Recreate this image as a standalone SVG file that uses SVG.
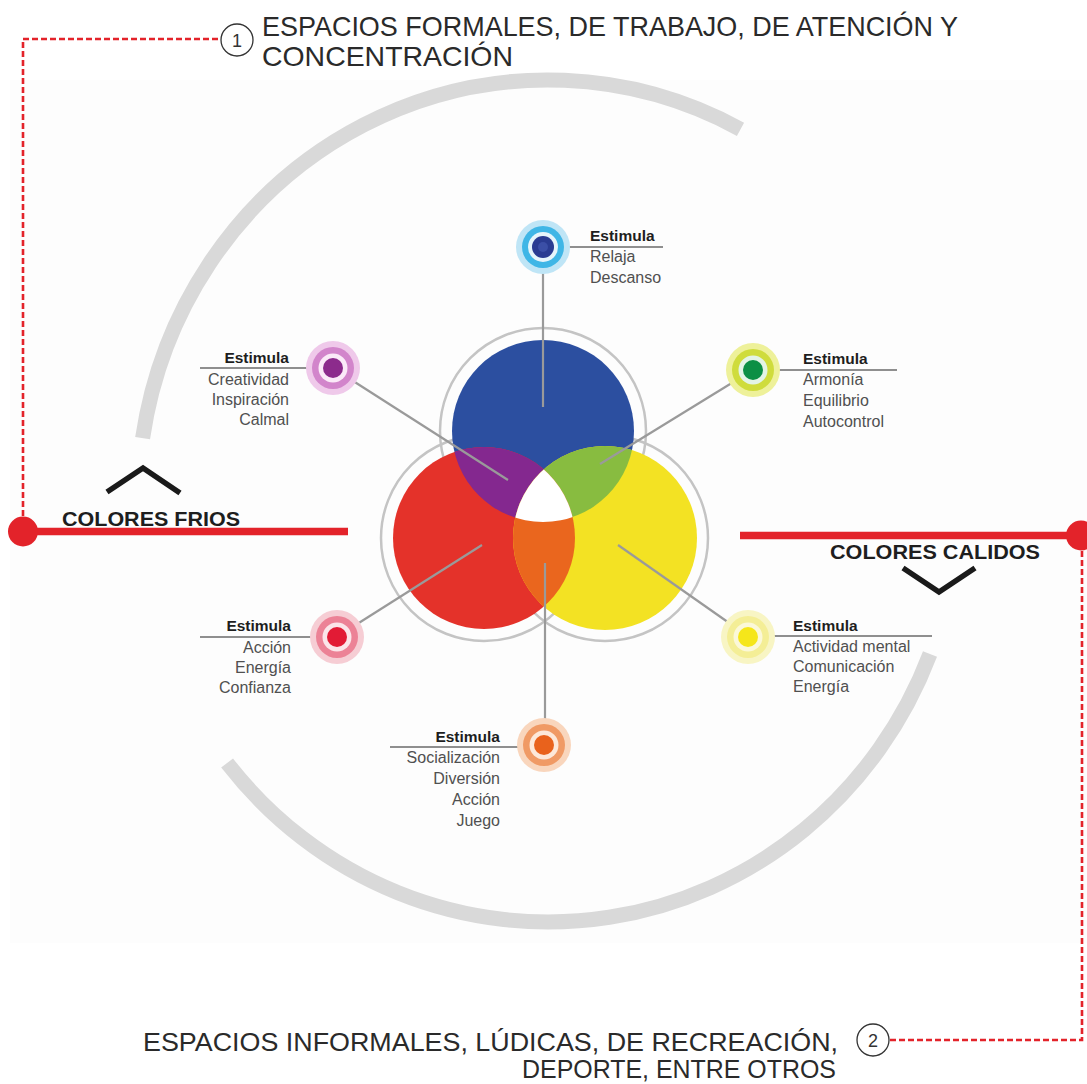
<svg xmlns="http://www.w3.org/2000/svg" width="1087" height="1084" viewBox="0 0 1087 1084">
<style>
.head{font-family:"Liberation Sans",Arial,sans-serif;font-size:28px;fill:#2a2a2a}
.head2{font-family:"Liberation Sans",Arial,sans-serif;font-size:25px;fill:#2a2a2a}
.est{font-family:"Liberation Sans",Arial,sans-serif;font-size:15.5px;font-weight:bold;fill:#1e1e1e}
.item{font-family:"Liberation Sans",Arial,sans-serif;font-size:16px;fill:#505050}
.big{font-family:"Liberation Sans",Arial,sans-serif;font-size:21px;font-weight:bold;fill:#1e1e1e}
.num{font-family:"Liberation Sans",Arial,sans-serif;font-size:18px;fill:#333}
.ul{stroke:#8f8f8f;stroke-width:2.2}
.con{stroke:#9a9a9a;stroke-width:2.2;fill:none}
.dash{stroke:#e3232a;stroke-width:2.6;stroke-dasharray:6 3;fill:none}
.red{stroke:#e3232a;stroke-width:7.5}
.ring{fill:none;stroke:#c4c4c4;stroke-width:2.5}
.chev{fill:none;stroke:#1a1a1a;stroke-width:5.5}
</style>
<defs>
<clipPath id="cB"><circle cx="543" cy="431" r="91"/></clipPath>
<clipPath id="cR"><circle cx="484" cy="538" r="91"/></clipPath>
<clipPath id="cY"><circle cx="605" cy="538" r="92"/></clipPath>
</defs>
<rect x="0" y="0" width="1087" height="1084" fill="#ffffff"/>
<rect x="10" y="80" width="1077" height="863" fill="#fdfdfd"/>

<!-- big gray arcs -->
<g id="arcs" fill="none" stroke="#d9d9d9" stroke-width="15">
<path d="M142.6,438.1 A410,421 0 0 1 740.5,129.3"/>
<path d="M930,654 A410,421 0 0 1 227.1,763"/>
</g>

<!-- Venn diagram -->
<g id="venn">
<circle class="ring" cx="543" cy="431" r="103"/>
<circle class="ring" cx="484" cy="538" r="103"/>
<circle class="ring" cx="605" cy="538" r="103"/>
<circle cx="543" cy="431" r="91" fill="#2c4fa0"/>
<circle cx="484" cy="538" r="91" fill="#e4322a"/>
<circle cx="605" cy="538" r="92" fill="#f3e223"/>
<circle cx="484" cy="538" r="91" fill="#84288f" clip-path="url(#cB)"/>
<circle cx="605" cy="538" r="92" fill="#88bc40" clip-path="url(#cB)"/>
<circle cx="605" cy="538" r="92" fill="#ea661e" clip-path="url(#cR)"/>
<g clip-path="url(#cR)"><circle cx="605" cy="538" r="92" fill="#ffffff" clip-path="url(#cB)"/></g>
</g>

<!-- connectors -->
<g id="connectors">
<line class="con" x1="543" y1="262" x2="543" y2="407"/>
<line class="con" x1="350" y1="379" x2="508" y2="480"/>
<line class="con" x1="735" y1="381" x2="600" y2="464"/>
<line class="con" x1="354" y1="626" x2="482" y2="545"/>
<line class="con" x1="732" y1="625" x2="618" y2="545"/>
<line class="con" x1="545" y1="563" x2="545" y2="725"/>
<line class="red" x1="23" y1="531.5" x2="348" y2="531.5"/>
<circle cx="23" cy="531.5" r="15" fill="#e3232a"/>
<line class="red" x1="740" y1="535.5" x2="1080" y2="535.5"/>
<circle cx="1081" cy="535.5" r="15" fill="#e3232a"/>
<polyline class="dash" points="23,516 23,39 220,39"/>
<polyline class="dash" points="1082,551 1082,1040 889,1040"/>
</g>

<!-- headings -->
<g id="label-formal">
<circle cx="237" cy="40" r="16" fill="#ffffff" stroke="#333" stroke-width="1.3"/>
<text class="num" x="237" y="46.5" text-anchor="middle">1</text>
<text class="head" x="262" y="36" textLength="696" lengthAdjust="spacingAndGlyphs">ESPACIOS FORMALES, DE TRABAJO, DE ATENCIÓN Y</text>
<text class="head" x="262" y="66" textLength="251" lengthAdjust="spacingAndGlyphs">CONCENTRACIÓN</text>
</g>
<g id="label-informal">
<circle cx="873" cy="1040" r="16" fill="#ffffff" stroke="#333" stroke-width="1.3"/>
<text class="num" x="873" y="1046.5" text-anchor="middle">2</text>
<text class="head2" x="143" y="1051" textLength="695" lengthAdjust="spacingAndGlyphs">ESPACIOS INFORMALES, LÚDICAS, DE RECREACIÓN,</text>
<text class="head2" x="522" y="1078" textLength="314" lengthAdjust="spacingAndGlyphs">DEPORTE, ENTRE OTROS</text>
</g>

<g id="colores-frios">
<polyline class="chev" points="107,492 143,468 180,493"/>
<text class="big" x="62" y="526" textLength="178" lengthAdjust="spacingAndGlyphs">COLORES FRIOS</text>
</g>
<g id="colores-calidos">
<text class="big" x="830" y="559" textLength="210" lengthAdjust="spacingAndGlyphs">COLORES CALIDOS</text>
<polyline class="chev" points="903,568 939,592 975,568"/>
</g>

<!-- nodes -->
<g id="node-blue">
<line class="ul" x1="560" y1="247" x2="663" y2="247"/>
<circle cx="543" cy="247" r="27" fill="#bfe5f6"/>
<circle cx="543" cy="247" r="21" fill="#3fb6e6"/>
<circle cx="543" cy="247" r="15" fill="#e6f5fb"/>
<circle cx="543" cy="247" r="11" fill="#2a3c92"/>
<circle cx="543" cy="247" r="5" fill="#3b4fa6"/>
<text class="est" x="590" y="241">Estimula</text>
<text class="item" x="590" y="262">Relaja</text>
<text class="item" x="590" y="283">Descanso</text>
</g>

<g id="node-purple">
<line class="ul" x1="200" y1="368" x2="318" y2="368"/>
<circle cx="333" cy="368" r="27" fill="#efc9ea"/>
<circle cx="333" cy="368" r="21" fill="#d285cb"/>
<circle cx="333" cy="368" r="14.5" fill="#fbeaf8"/>
<circle cx="333" cy="368" r="10" fill="#8c2b8c"/>
<text class="est" x="289" y="363" text-anchor="end">Estimula</text>
<text class="item" x="289" y="385" text-anchor="end">Creatividad</text>
<text class="item" x="289" y="405" text-anchor="end">Inspiración</text>
<text class="item" x="289" y="425" text-anchor="end">Calmal</text>
</g>

<g id="node-green">
<line class="ul" x1="768" y1="370" x2="897" y2="370"/>
<circle cx="753" cy="370" r="27" fill="#eef19a"/>
<circle cx="753" cy="370" r="21" fill="#cfdc3c"/>
<circle cx="753" cy="370" r="14.5" fill="#e3f4e6"/>
<circle cx="753" cy="370" r="10" fill="#0b8f45"/>
<text class="est" x="803" y="364">Estimula</text>
<text class="item" x="803" y="385">Armonía</text>
<text class="item" x="803" y="406">Equilibrio</text>
<text class="item" x="803" y="427">Autocontrol</text>
</g>

<g id="node-red">
<line class="ul" x1="200" y1="637" x2="325" y2="637"/>
<circle cx="337" cy="637" r="27" fill="#f6cdd4"/>
<circle cx="337" cy="637" r="21" fill="#ec8296"/>
<circle cx="337" cy="637" r="14.5" fill="#fbe5e9"/>
<circle cx="337" cy="637" r="10" fill="#e21b35"/>
<text class="est" x="291" y="631" text-anchor="end">Estimula</text>
<text class="item" x="291" y="653" text-anchor="end">Acción</text>
<text class="item" x="291" y="673" text-anchor="end">Energía</text>
<text class="item" x="291" y="693" text-anchor="end">Confianza</text>
</g>

<g id="node-yellow">
<line class="ul" x1="764" y1="636" x2="932" y2="636"/>
<circle cx="748" cy="637" r="27" fill="#f8f5c4"/>
<circle cx="748" cy="637" r="21" fill="#f4ee96"/>
<circle cx="748" cy="637" r="14.5" fill="#fbf8d8"/>
<circle cx="748" cy="637" r="10" fill="#f5e61a"/>
<text class="est" x="793" y="631">Estimula</text>
<text class="item" x="793" y="652">Actividad mental</text>
<text class="item" x="793" y="672">Comunicación</text>
<text class="item" x="793" y="692">Energía</text>
</g>

<g id="node-orange">
<line class="ul" x1="390" y1="747" x2="530" y2="747"/>
<circle cx="544" cy="745" r="27" fill="#f9d6bd"/>
<circle cx="544" cy="745" r="21" fill="#f09a65"/>
<circle cx="544" cy="745" r="14.5" fill="#fde8d9"/>
<circle cx="544" cy="745" r="10" fill="#e9621c"/>
<text class="est" x="500" y="742" text-anchor="end">Estimula</text>
<text class="item" x="500" y="763" text-anchor="end">Socialización</text>
<text class="item" x="500" y="784" text-anchor="end">Diversión</text>
<text class="item" x="500" y="805" text-anchor="end">Acción</text>
<text class="item" x="500" y="826" text-anchor="end">Juego</text>
</g>
</svg>
